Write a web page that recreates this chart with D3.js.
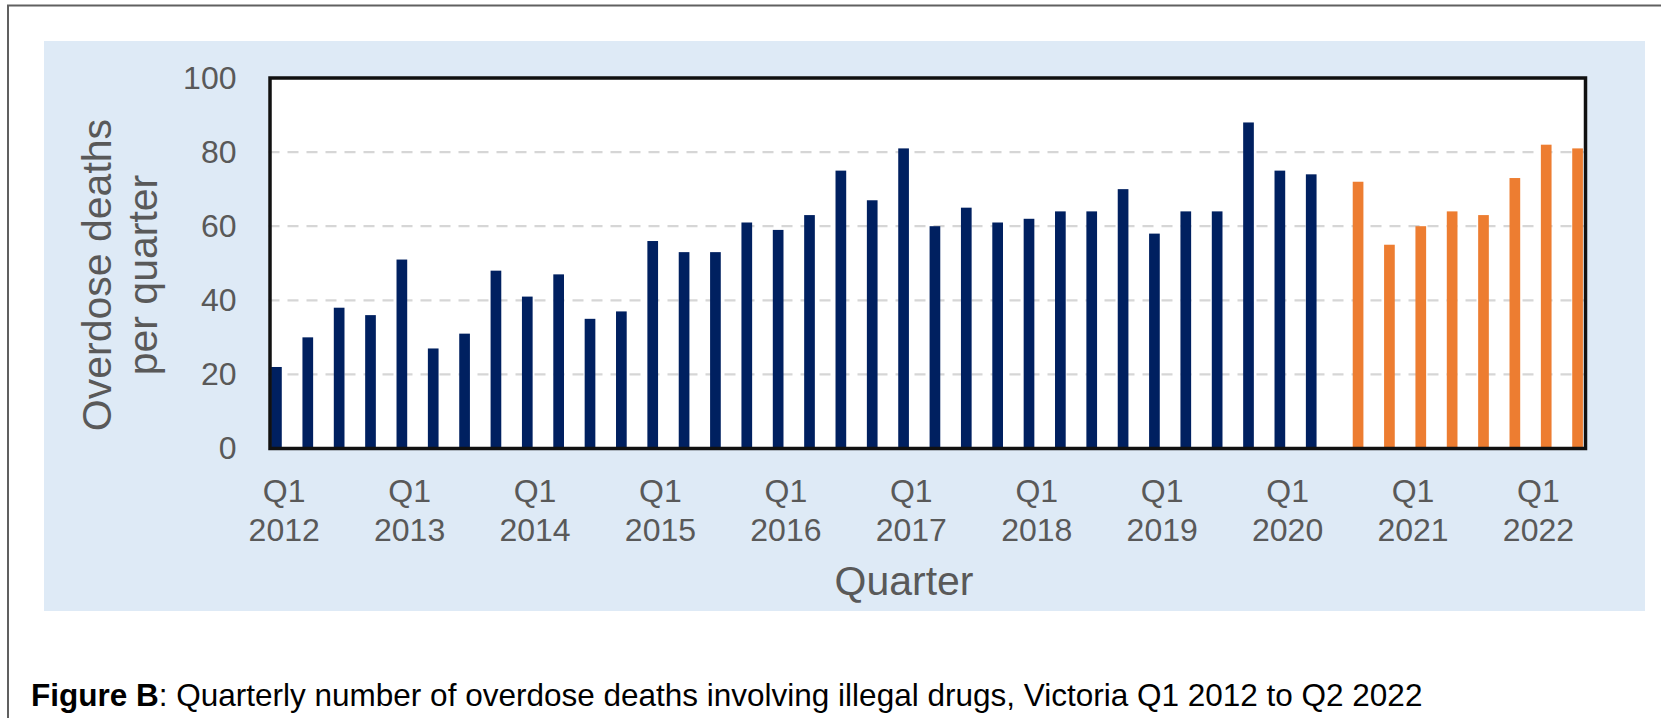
<!DOCTYPE html>
<html><head><meta charset="utf-8">
<script src="https://cdn.jsdelivr.net/npm/d3@7"></script>
<style>html,body{margin:0;padding:0;background:#fff;overflow:hidden}</style>
</head><body><svg id="c" width="1661" height="718"></svg>
<script>
const categories = [
  "Q1 2012","Q2 2012","Q3 2012","Q4 2012",
  "Q1 2013","Q2 2013","Q3 2013","Q4 2013",
  "Q1 2014","Q2 2014","Q3 2014","Q4 2014",
  "Q1 2015","Q2 2015","Q3 2015","Q4 2015",
  "Q1 2016","Q2 2016","Q3 2016","Q4 2016",
  "Q1 2017","Q2 2017","Q3 2017","Q4 2017",
  "Q1 2018","Q2 2018","Q3 2018","Q4 2018",
  "Q1 2019","Q2 2019","Q3 2019","Q4 2019",
  "Q1 2020","Q2 2020","Q3 2020","Q4 2020",
  "Q1 2021","Q2 2021","Q3 2021","Q4 2021",
  "Q1 2022","Q2 2022"
];
const seriesNames = ["Earlier data", "Recent data"];
const earlierDeaths = [
  22,30,38,36, 51,27,31,48, 41,47,35,37, 56,53,53,61,
  59,63,75,67, 81,60,65,61, 62,64,64,70, 58,64,64,88,
  75,74,null,null, null,null,null,null, null,null
];
const recentDeaths = [
  null,null,null,null, null,null,null,null, null,null,null,null, null,null,null,null,
  null,null,null,null, null,null,null,null, null,null,null,null, null,null,null,null,
  null,null,72,55, 60,64,63,73, 82,81
];
const seriesColors = ["#002060", "#ED7D31"];
const xTickLabels = ["Q1 2012","Q1 2013","Q1 2014","Q1 2015","Q1 2016","Q1 2017",
                     "Q1 2018","Q1 2019","Q1 2020","Q1 2021","Q1 2022"];
const yTicks = [0, 20, 40, 60, 80, 100];
const yTitleLines = ["Overdose deaths", "per quarter"];
const xTitle = "Quarter";
const captionBold = "Figure B";
const captionRest = ": Quarterly number of overdose deaths involving illegal drugs, Victoria Q1 2012 to Q2 2022";

const font = "'Liberation Sans', Arial, Helvetica, sans-serif";
const grey = "#595959";
const svg = d3.select("#c").style("font-family", font);
const P = {l: 268.5, r: 1585.5, t: 78, b: 448.5};

// outer frame
svg.append("rect").attr("x", 8).attr("y", 5.5).attr("width", 1700).attr("height", 800)
  .attr("fill", "#fff").attr("stroke", "#606060").attr("stroke-width", 2);
// chart area background
svg.append("rect").attr("x", 44).attr("y", 41).attr("width", 1601).attr("height", 570)
  .attr("fill", "#DEEAF6");
// plot background
svg.append("rect").attr("x", P.l).attr("y", P.t).attr("width", P.r - P.l).attr("height", P.b - P.t)
  .attr("fill", "#fff");

const x = d3.scaleBand().domain(categories).range([P.l, P.r]).padding(0);
const xs = d3.scaleBand().domain(seriesNames).range([0, x.bandwidth()])
  .paddingInner(0.31).paddingOuter(0.167);
const y = d3.scaleLinear().domain([0, 100]).range([P.b, P.t]);

// gridlines
svg.append("g").selectAll("line").data(yTicks.filter(v => v > 0 && v < 100)).join("line")
  .attr("x1", P.l).attr("x2", P.r).attr("y1", d => y(d)).attr("y2", d => y(d))
  .attr("stroke", "#D6D6D6").attr("stroke-width", 2.2).attr("stroke-dasharray", "11,8");

// bars
const seriesData = [earlierDeaths, recentDeaths];
seriesData.forEach((vals, si) => {
  const data = categories.map((c, i) => ({c, v: vals[i]})).filter(d => d.v != null);
  svg.append("g").selectAll("rect").data(data).join("rect")
    .attr("x", d => x(d.c) + xs(seriesNames[si]))
    .attr("width", xs.bandwidth())
    .attr("y", d => y(d.v))
    .attr("height", d => y(0) - y(d.v))
    .attr("fill", seriesColors[si]);
});

// plot border
svg.append("rect").attr("x", P.l + 1.5).attr("y", P.t).attr("width", P.r - P.l - 1.5).attr("height", P.b - P.t)
  .attr("fill", "none").attr("stroke", "#111").attr("stroke-width", 3.5);

// y axis
const yAxis = svg.append("g").attr("transform", `translate(${P.l},0)`)
  .call(d3.axisLeft(y).tickValues(yTicks).tickSize(0).tickPadding(32));
yAxis.select(".domain").remove();
yAxis.selectAll("text").attr("font-size", 32).attr("fill", grey).style("font-family", font);

// x axis
const xAxis = svg.append("g").attr("transform", `translate(0,${P.b})`)
  .call(d3.axisBottom(x).tickValues(xTickLabels).tickSize(0));
xAxis.select(".domain").remove();
xAxis.selectAll("text").each(function(d) {
  const t = d3.select(this);
  t.text(null).attr("y", 0).attr("dy", null)
    .attr("font-size", 32).attr("fill", grey).style("font-family", font);
  const parts = d.split(" ");
  t.append("tspan").attr("x", 0).attr("y", 53.5).text(parts[0]);
  t.append("tspan").attr("x", 0).attr("y", 92.5).text(parts[1]);
});

// axis titles
const yt = svg.append("text").attr("transform", "translate(0,275) rotate(-90)")
  .attr("text-anchor", "middle").attr("font-size", 41).attr("fill", grey);
yt.append("tspan").attr("x", 0).attr("y", 111).text(yTitleLines[0]);
yt.append("tspan").attr("x", 0).attr("y", 157).text(yTitleLines[1]);

svg.append("text").attr("x", 904).attr("y", 595).attr("text-anchor", "middle")
  .attr("font-size", 41).attr("fill", grey).text(xTitle);

// caption
const cap = svg.append("text").attr("x", 31).attr("y", 706).attr("font-size", 31.5).attr("fill", "#000");
cap.append("tspan").attr("font-weight", "bold").text(captionBold);
cap.append("tspan").text(captionRest);
</script>
</body></html>
